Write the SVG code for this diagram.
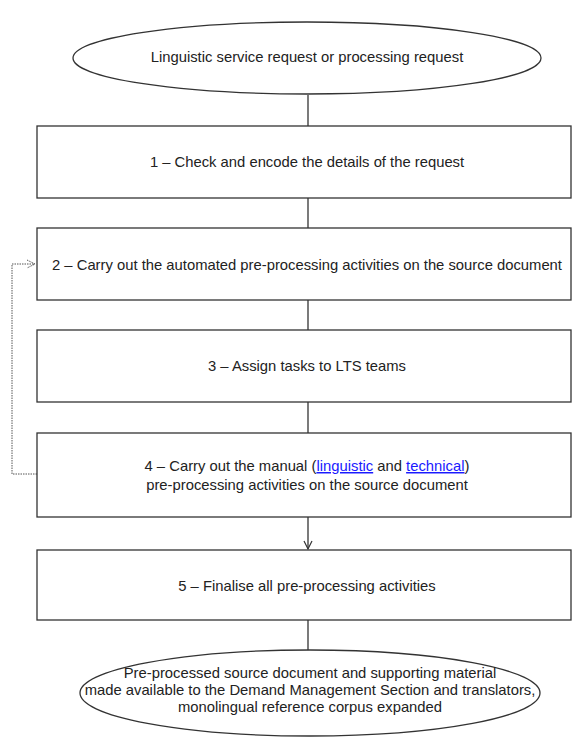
<svg xmlns="http://www.w3.org/2000/svg" width="572" height="738" viewBox="0 0 572 738">
<style>
.s{fill:#fff;stroke:#333;stroke-width:1.3}
.t{font-family:"Liberation Sans",Arial,sans-serif;font-size:14.8px;fill:#222;text-anchor:middle}
.c{stroke:#333;stroke-width:1.3;fill:none}
.d{stroke:#555;stroke-width:1;fill:none;stroke-dasharray:1.5 1}
.l{fill:#1a1aff;text-decoration:underline}
</style>
<defs>
<marker id="a" markerWidth="12" markerHeight="12" refX="9" refY="5" orient="auto" markerUnits="userSpaceOnUse">
<path d="M1,1 L9,5 L1,9" fill="none" stroke="#333" stroke-width="1.2"/>
</marker>
<marker id="ad" markerWidth="12" markerHeight="12" refX="9" refY="5" orient="auto" markerUnits="userSpaceOnUse">
<path d="M1,1 L9,5 L1,9" fill="none" stroke="#555" stroke-width="1" stroke-dasharray="1.5 1"/>
</marker>
</defs>
<g id="connectors">
<line class="c" x1="308" y1="95" x2="308" y2="126"/>
<line class="c" x1="308" y1="198" x2="308" y2="228"/>
<line class="c" x1="308" y1="300" x2="308" y2="330"/>
<line class="c" x1="308" y1="402" x2="308" y2="433"/>
<line class="c" x1="308" y1="517" x2="308" y2="549" marker-end="url(#a)"/>
<line class="c" x1="308" y1="620" x2="308" y2="650"/>
<polyline class="d" points="37,474 12,474 12,264 35,264" marker-end="url(#ad)"/>
</g>
<g id="start">
<ellipse class="s" cx="307" cy="58" rx="234" ry="36"/>
<text class="t" x="307" y="62">Linguistic service request or processing request</text>
</g>
<g id="step1">
<rect class="s" x="37" y="126" width="534" height="72"/>
<text class="t" x="307" y="167">1 – Check and encode the details of the request</text>
</g>
<g id="step2">
<rect class="s" x="37" y="228" width="534" height="72"/>
<text class="t" x="307" y="270">2 – Carry out the automated pre-processing activities on the source document</text>
</g>
<g id="step3">
<rect class="s" x="37" y="330" width="534" height="72"/>
<text class="t" x="307" y="371">3 – Assign tasks to LTS teams</text>
</g>
<g id="step4">
<rect class="s" x="37" y="433" width="534" height="84"/>
<text class="t" x="307" y="471">4 – Carry out the manual (<tspan class="l">linguistic</tspan> and <tspan class="l">technical</tspan>)</text>
<text class="t" x="307" y="490">pre-processing activities on the source document</text>
</g>
<g id="step5">
<rect class="s" x="37" y="550" width="534" height="70"/>
<text class="t" x="307" y="591">5 – Finalise all pre-processing activities</text>
</g>
<g id="end">
<ellipse class="s" cx="310" cy="693" rx="230" ry="43"/>
<text class="t" x="310" y="678">Pre-processed source document and supporting material</text>
<text class="t" x="310" y="695">made available to the Demand Management Section and translators,</text>
<text class="t" x="310" y="712">monolingual reference corpus expanded</text>
</g>
</svg>
